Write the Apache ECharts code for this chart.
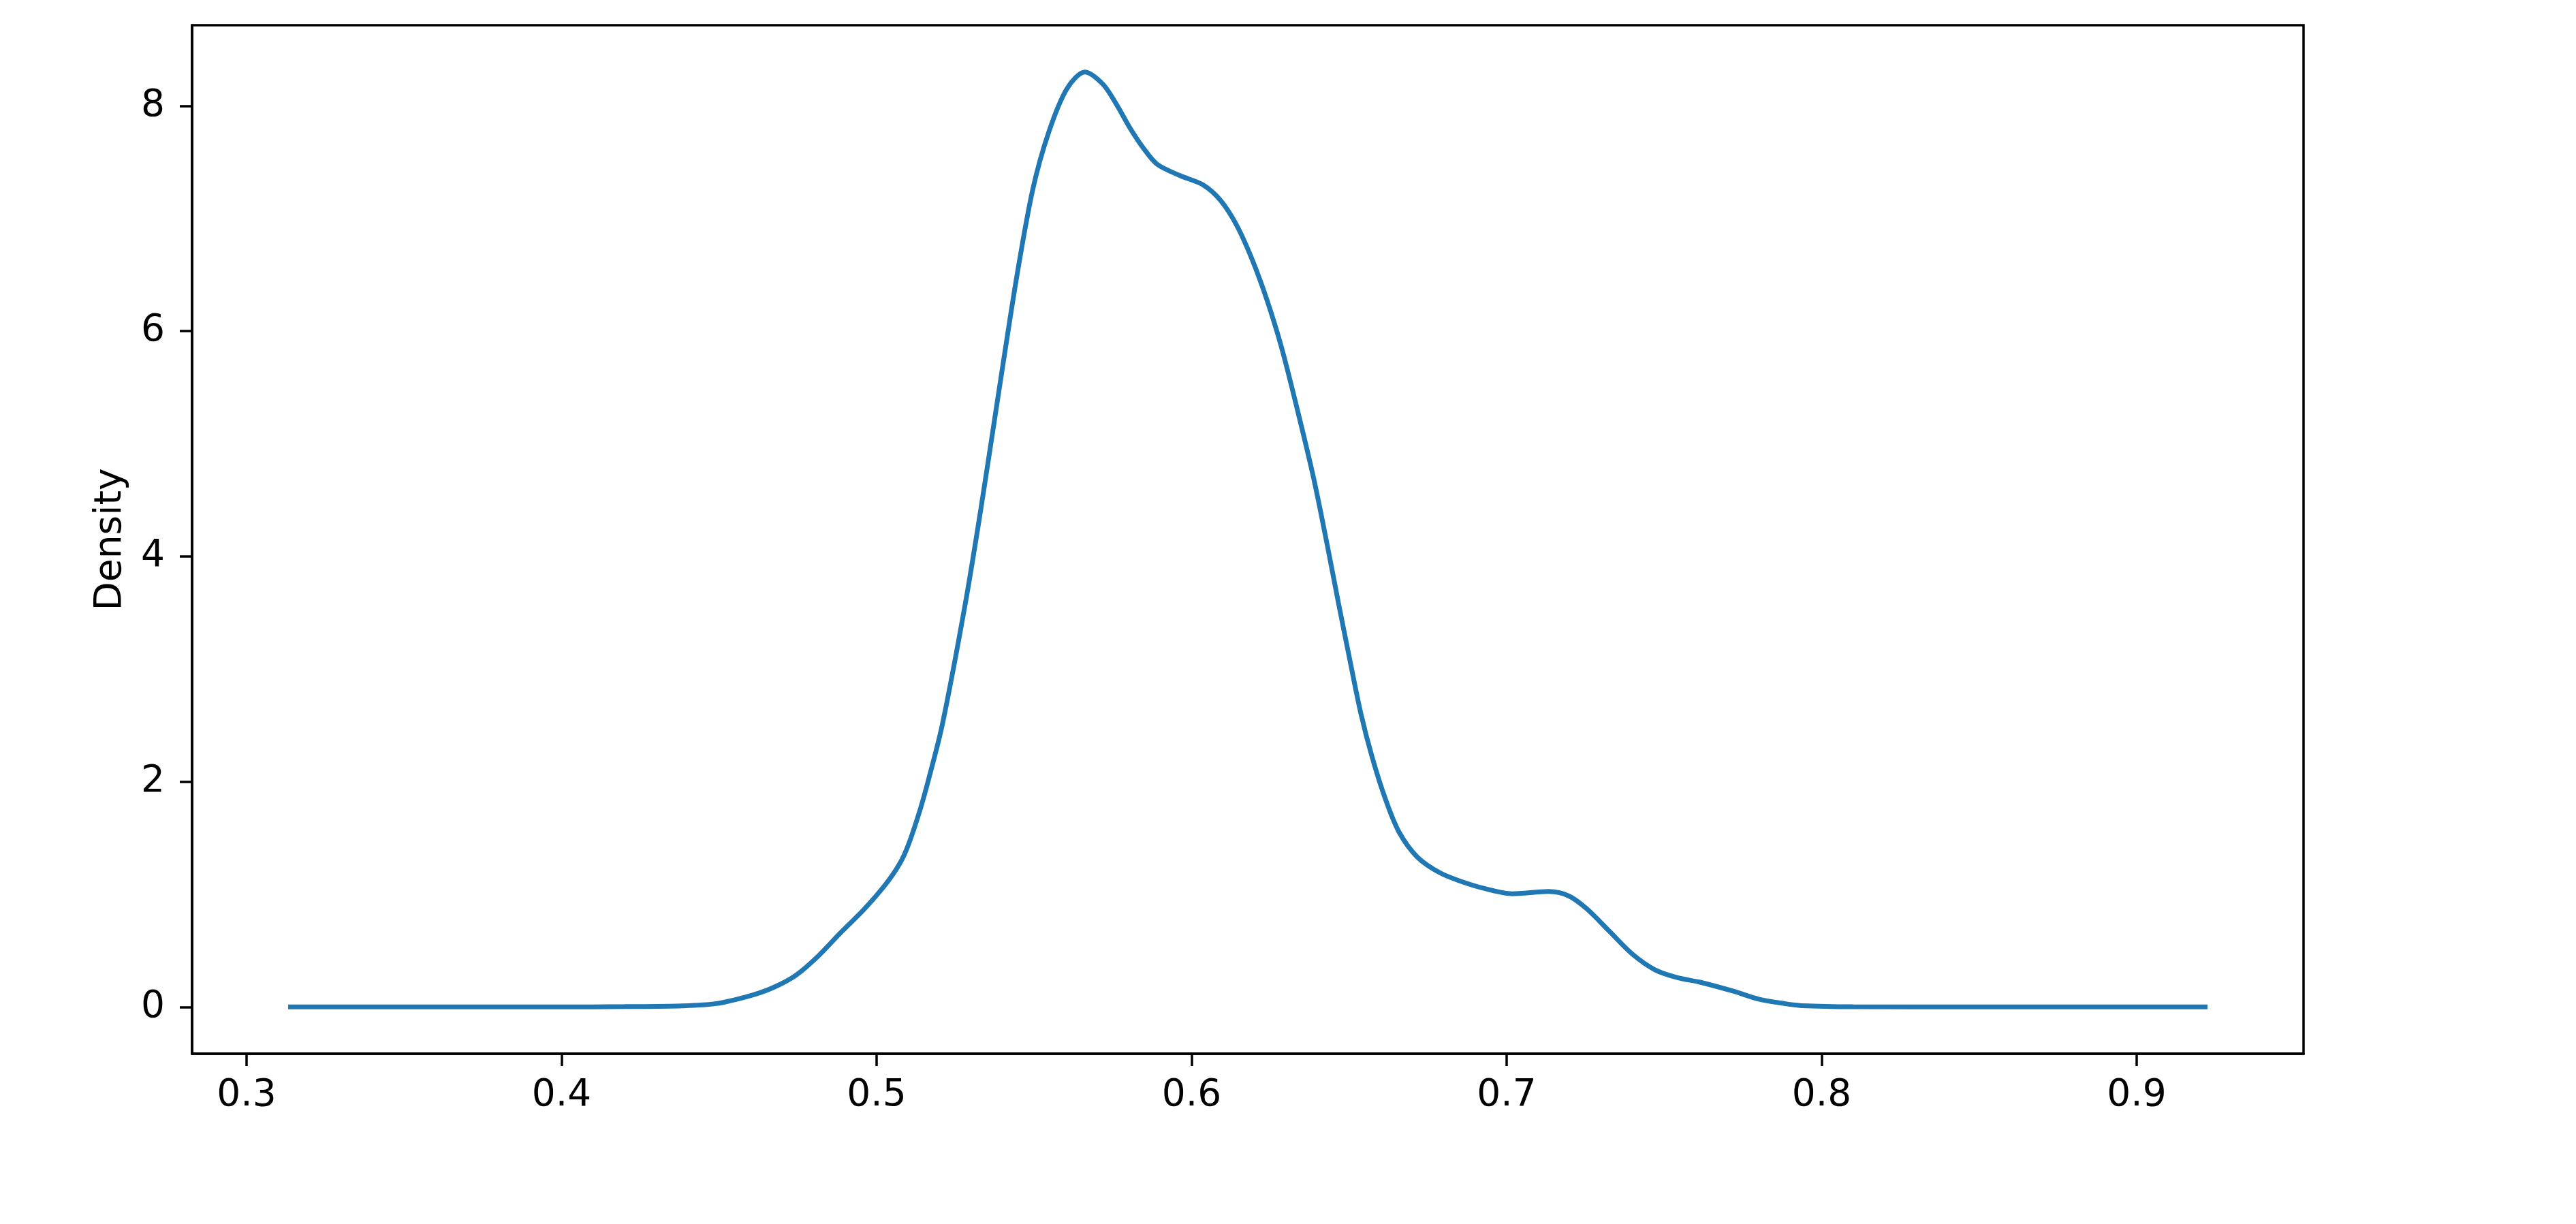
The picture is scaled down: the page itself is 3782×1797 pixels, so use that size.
<!DOCTYPE html>
<html>
<head>
<meta charset="utf-8">
<script src="https://cdn.jsdelivr.net/npm/echarts@6/dist/echarts.min.js"></script>
<style>
html,body{margin:0;padding:0;background:#fff;}
#chart{width:3782px;height:1797px;}
</style>
</head>
<body>
<div id="chart"></div>
<script>
// KDE evaluation points (x) and density values (y)
const xValues = [0.3132, 0.35, 0.40, 0.42, 0.4383, 0.4491, 0.4599, 0.467, 0.4743, 0.4814, 0.4886, 0.4958, 0.5029, 0.5073, 0.5101, 0.5137, 0.5166, 0.5209, 0.5281, 0.5331, 0.5389, 0.5446, 0.5496, 0.5547, 0.5604, 0.5661, 0.5719, 0.5762, 0.5805, 0.5848, 0.5891, 0.5963, 0.6035, 0.6092, 0.6143, 0.6193, 0.6240, 0.6286, 0.6336, 0.6387, 0.6430, 0.6466, 0.6501, 0.6537, 0.6573, 0.6616, 0.6659, 0.6717, 0.6789, 0.6860, 0.6932, 0.7018, 0.7133, 0.7198, 0.7255, 0.7327, 0.7399, 0.7471, 0.7543, 0.7614, 0.7720, 0.7800, 0.7882, 0.7937, 0.81, 0.85, 0.9225];
const densityValues = [0, 0, 0, 0.003, 0.01, 0.03, 0.10, 0.17, 0.28, 0.45, 0.66, 0.86, 1.09, 1.27, 1.44, 1.74, 2.03, 2.51, 3.57, 4.42, 5.48, 6.50, 7.26, 7.77, 8.15, 8.30, 8.19, 8.01, 7.80, 7.62, 7.48, 7.38, 7.30, 7.16, 6.94, 6.63, 6.27, 5.85, 5.30, 4.70, 4.11, 3.59, 3.10, 2.61, 2.22, 1.84, 1.55, 1.33, 1.19, 1.11, 1.05, 1.005, 1.025, 0.985, 0.87, 0.67, 0.47, 0.33, 0.26, 0.22, 0.14, 0.07, 0.03, 0.012, 0.002, 0, 0];
const xTicks = [0.3, 0.4, 0.5, 0.6, 0.7, 0.8, 0.9];
const yTicks = [0, 2, 4, 6, 8];
const yAxisTitle = 'Density';

const seriesData = xValues.map((x, i) => [x, densityValues[i]]);

const chart = echarts.init(document.getElementById('chart'), null, {renderer: 'canvas'});
const font = 'DejaVu Sans';
chart.setOption({
  backgroundColor: '#ffffff',
  animation: false,
  grid: {
    left: 282, top: 37, right: 400, bottom: 250,
    show: true, borderColor: '#000', borderWidth: 3.5, backgroundColor: 'transparent'
  },
  xAxis: {
    type: 'value',
    min: 0.2827, max: 0.953,
    splitLine: {show: false},
    axisLine: {show: true, onZero: false, lineStyle: {color: '#000', width: 3.5}},
    axisTick: {show: true, customValues: xTicks, length: 18, lineStyle: {color: '#000', width: 3.5}},
    axisLabel: {
      customValues: xTicks, margin: 34, color: '#000',
      fontFamily: font, fontSize: 55,
      formatter: v => v.toFixed(1)
    }
  },
  yAxis: {
    type: 'value',
    min: -0.415, max: 8.715,
    name: yAxisTitle, nameLocation: 'middle', nameGap: 92,
    nameTextStyle: {fontFamily: font, fontSize: 55, color: '#000'},
    splitLine: {show: false},
    axisLine: {show: true, onZero: false, lineStyle: {color: '#000', width: 3.5}},
    axisTick: {show: true, customValues: yTicks, length: 18, lineStyle: {color: '#000', width: 3.5}},
    axisLabel: {
      customValues: yTicks, margin: 40, color: '#000',
      fontFamily: font, fontSize: 55,
      formatter: v => String(Math.round(v))
    }
  },
  series: [{
    type: 'line',
    data: seriesData,
    showSymbol: false,
    smooth: 0.3,
    lineStyle: {color: '#1f77b4', width: 7},
    clip: true
  }]
});
</script>
</body>
</html>
